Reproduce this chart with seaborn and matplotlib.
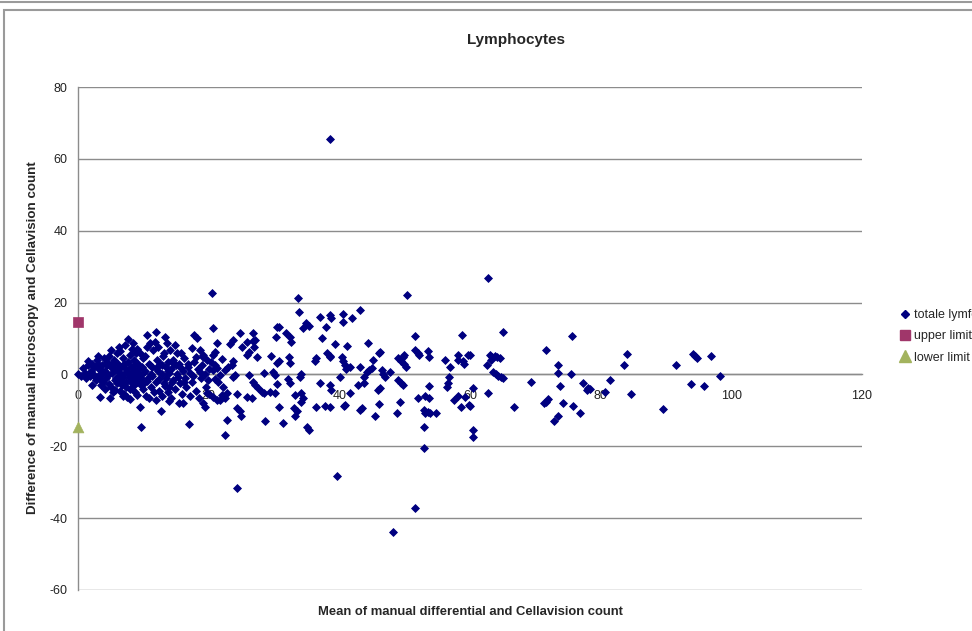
import matplotlib
matplotlib.use("Agg")
import matplotlib.pyplot as plt
import seaborn as sns
import pandas as pd
from matplotlib.patches import Rectangle
from matplotlib.lines import Line2D

# ---------------- data ----------------
title = "Lymphocytes"
x_label = "Mean of manual differential and Cellavision count"
y_label = "Difference of manual microscopy and Cellavision count"
series_names = ["totale lymfocyten", "upper limit", "lower limit"]

x_ticks = [0, 20, 40, 60, 80, 100, 120]
y_ticks = [-60, -40, -20, 0, 20, 40, 60, 80]

# mean (x) and difference (y) of the main series
mean_count = [
    # dense cluster 0-20
    0.0, 0.5, 0.8, 1.0, 1.2, 1.5, 1.6, 1.8, 2.0, 2.1, 2.3, 2.5, 2.7, 2.9, 3.0, 3.1, 3.2, 3.4, 3.5, 3.6,
    3.8, 3.9, 4.0, 4.1, 4.2, 4.3, 4.5, 4.6, 4.8, 4.9, 5.0, 5.1, 5.2, 5.4, 5.5, 5.6, 5.7, 5.9, 6.0, 6.1,
    6.2, 6.3, 6.4, 6.5, 6.6, 6.7, 6.8, 6.9, 7.0, 7.1, 7.2, 7.3, 7.4, 7.5, 7.6, 7.7, 7.8, 7.9, 8.0, 8.1,
    8.2, 8.3, 8.4, 8.5, 8.6, 8.7, 8.8, 8.9, 9.0, 9.1, 9.2, 9.3, 9.5, 9.5, 9.6, 9.7, 9.8, 9.9, 10.0, 10.1,
    10.2, 10.3, 10.4, 10.5, 10.6, 10.7, 10.8, 10.9, 11.0, 11.1, 11.2, 11.3, 11.5, 11.6, 11.8, 11.9, 12.0, 12.1, 12.2, 12.3,
    12.4, 12.5, 12.7, 12.8, 12.9, 13.0, 13.1, 13.2, 13.3, 13.4, 13.5, 13.6, 13.7, 13.8, 13.9, 14.0, 14.1, 14.2, 14.3, 14.5,
    14.6, 14.8, 14.9, 15.0, 15.1, 15.2, 15.4, 15.5, 15.6, 15.8, 15.9, 16.0, 16.1, 16.3, 16.4, 16.6, 16.8, 17.0, 17.1, 17.2,
    17.4, 17.5, 17.7, 17.8, 18.0, 18.2, 18.3, 18.5, 18.7, 18.8, 19.0, 19.2, 19.2, 19.4, 19.5, 19.6, 19.7, 19.7, 19.9, 20.0,
    20.0, 2.2, 2.6, 3.3, 3.7, 4.4, 4.7, 5.3, 5.8, 6.0, 6.6, 7.0, 7.3, 7.8, 8.2, 8.5, 8.9, 9.2, 9.6, 10.0,
    10.5, 11.0, 11.4, 11.9, 12.4, 12.9, 13.3, 13.8, 14.4, 14.7, 15.3, 15.8, 16.2, 16.9, 17.6, 18.1, 18.6, 3.0, 5.0, 6.2,
    8.4, 9.0, 5.6, 6.9, 8.0, 12.0, 14.0, 19.1, 20.4, 21.0, 21.2, 20.7,
    # 20-40
    20.5, 20.6, 33.6, 33.8, 30.8, 24.8, 26.8, 23.8, 23.3, 25.8, 26.8, 25.1, 27.0, 30.3, 31.8, 32.5, 32.6, 34.9, 35.3, 37.0,
    38.5, 38.7, 38.0, 37.3, 39.3, 21.0, 20.7, 26.1, 25.8, 27.4, 29.5, 30.8, 30.5, 32.3, 32.4, 36.5, 36.2, 38.1, 38.5, 23.8,
    23.5, 23.0, 22.5, 24.0, 23.8, 21.8, 26.1, 28.4, 30.2, 29.8, 34.2, 34.0, 26.8, 27.1, 27.6, 28.1, 28.4, 29.4, 30.2, 30.5,
    32.2, 32.5, 33.2, 34.2, 34.5, 37.0, 38.6, 38.8, 24.3, 25.8, 26.6, 30.7, 33.0, 33.5, 33.2, 36.4, 37.8, 38.6, 35.0, 35.3,
    31.4, 28.6, 24.3, 24.8, 25.0, 22.8, 22.5, 21.7, 22.5, 20.7, 21.2, 22.8, 22.0, 24.3, 39.6, 30.4, 34.5, 27.1, 34.2, 21.5,
    22.2, 20.9, 21.3, 22.0,
    # 40-60
    38.6, 50.3, 40.5, 40.5, 41.9, 43.1, 41.2, 38.6, 40.4, 40.6, 40.9, 41.0, 44.4, 43.2, 45.1, 46.3, 46.1, 45.0, 44.6, 44.3,
    43.8, 43.7, 46.5, 46.7, 47.0, 47.7, 42.8, 41.6, 40.7, 46.2, 45.9, 43.4, 43.2, 45.5, 46.1, 49.0, 49.4, 49.7, 49.9, 50.2,
    49.9, 51.6, 51.6, 52.0, 52.2, 53.5, 53.7, 49.0, 49.4, 49.7, 49.3, 52.0, 53.7, 53.1, 53.8, 48.8, 52.9, 53.1, 53.5, 53.9,
    54.8, 52.9, 52.9, 51.6, 48.2, 56.2, 57.0, 56.8, 56.6, 56.5, 58.1, 58.2, 58.9, 59.1, 58.7, 57.6, 58.2, 58.6, 59.7, 59.9,
    40.1, 41.6, 40.9,
    # 60-100
    60.0, 60.4, 60.4, 62.7, 65.1, 63.0, 63.3, 63.2, 63.8, 64.2, 64.6, 62.6, 63.5, 64.0, 64.3, 64.7, 65.0, 60.4, 59.2, 60.0,
    62.7, 66.7, 69.3, 71.7, 73.5, 73.5, 73.7, 75.6, 75.5, 71.6, 71.9, 71.3, 74.2, 75.8, 76.9, 72.8, 73.4, 77.3, 78.1, 78.4,
    77.9, 80.7, 81.4, 84.1, 83.6, 84.6, 89.5, 91.6, 94.1, 94.4, 94.7, 93.8, 95.8, 96.9, 98.2,
]
difference = [
    # dense cluster 0-20
    0.0, -0.5, 1.7, 0.5, -1.0, 2.5, 3.6, -0.3, 1.0, -2.9, 0.0, 2.0, -1.5, 4.0, 3.0, -0.5, 1.5, -6.2, -3.0, 2.5,
    0.8, -2.0, 4.5, -4.0, 1.0, -1.0, 3.5, -0.2, 5.0, -6.6, 2.0, -3.5, 0.5, -5.0, 4.0, -1.5, 1.5, 5.9, -2.5, 3.0,
    -0.5, 0.8, -4.5, 6.5, 2.2, -1.0, -3.0, 4.5, 0.0, -5.5, 8.2, 1.5, -2.0, -6.2, 3.5, 9.9, -0.8, 5.5, -4.0, 2.0,
    7.0, -1.5, 0.5, -3.0, 4.0, -5.0, 1.0, 6.0, -5.7, -2.0, 3.0, 0.0, 5.9, -9.0, -1.0, -14.5, 2.0, -4.0, 4.5, -2.5,
    1.0, 5.0, -6.0, 7.7, 11.0, -1.0, -6.6, 3.0, 8.7, 0.0, -3.5, 2.0, 6.8, -5.0, 9.1, 11.9, -2.0, 4.0, 1.0, 7.7,
    -4.5, 3.0, -10.3, 0.0, -6.0, 5.0, 5.9, -2.5, 10.5, 2.0, -1.0, 8.7, -5.0, 3.5, 0.5, -3.5, 6.8, 1.5, -6.5, 4.0,
    -1.5, 8.2, -4.0, 2.5, 5.9, 0.0, -8.0, 3.0, -2.5, 6.0, -5.5, 1.0, -8.0, 4.5, -1.0, -3.5, 2.0, -13.9, -6.0, 0.5,
    7.3, -2.0, 11.0, 3.5, -4.5, 10.1, 1.5, -6.5, 6.8, -1.0, 2.5, 5.4, -8.0, -9.0, 0.0, -3.4, 4.0, -5.2, -1.5, -5.5,
    1.5, 2.8, -0.8, -1.2, 0.2, 2.6, -2.6, 3.2, -0.9, 1.2, -1.8, 2.8, -3.6, 0.3, -2.4, 2.5, -0.6, 1.4, -3.0, 0.5,
    -1.8, 2.6, -0.4, 1.8, -1.2, 2.6, -3.2, 1.0, -2.2, 2.8, -0.8, 1.8, -2.2, 3.0, -0.5, 4.8, 0.8, 5.0, 6.8, 7.5,
    8.8, 7.2, -4.2, -6.0, -6.8, -7.0, -7.3, 4.9, 3.4, 2.6, 1.8, 1.3,
    # 20-40
    22.8, 13.0, 21.4, 17.5, 13.3, 11.6, 11.6, 9.6, 8.5, 9.1, 9.4, 7.7, 7.7, 10.4, 11.5, 10.5, 8.9, 14.2, 13.5, 16.1,
    16.6, 15.6, 13.3, 10.1, 8.5, 6.3, 5.4, 6.3, 5.4, 4.8, 5.0, 3.6, 3.1, 4.8, 3.1, 4.5, 3.6, 5.9, 5.0, 3.6,
    2.6, 2.0, 1.1, -0.1, -0.8, -0.1, -0.1, 0.5, -0.1, 0.6, 0.1, -0.6, -2.0, -2.9, -3.8, -4.8, -5.2, -4.8, -5.2, -2.6,
    -1.3, -2.5, -5.7, -5.2, -6.6, -2.3, -2.9, -4.3, -5.4, -6.2, -6.6, -9.0, -9.4, -10.1, -11.7, -9.2, -8.8, -9.0, -14.5, -15.4,
    -13.4, -13.1, -9.4, -10.1, -11.7, -12.7, -16.8, -7.1, -6.6, -6.2, -7.1, -5.2, -5.7, -31.5, -28.4, 13.1, 12.9, 9.6, -7.6, -2.0,
    -3.5, -1.2, 8.8, 4.2,
    # 40-60
    65.5, 22.1, 16.8, 14.5, 15.6, 17.8, 8.0, 4.8, 4.8, 3.6, 2.6, 1.5, 8.7, 2.2, 4.0, 6.3, 5.9, 1.7, 1.3, 0.8,
    -0.6, -2.5, 1.1, 0.1, -0.6, 0.8, -2.9, -5.2, -8.8, -3.8, -4.3, -9.4, -9.9, -11.6, -8.3, 4.5, 3.8, 4.8, 2.9, 2.0,
    5.4, 10.7, 6.8, 6.1, 5.4, 6.6, 4.8, -1.5, -2.3, -2.9, -7.6, -6.5, -3.1, -6.0, -6.6, -10.8, -9.9, -10.6, -10.4, -10.8,
    -10.8, -14.5, -20.6, -37.1, -43.9, 4.0, 2.0, -0.6, -2.5, -3.4, 5.4, 4.0, 3.6, 2.9, 11.0, -7.1, -6.0, -9.1, 5.4, -8.5,
    -0.6, 2.0, -8.5,
    # 60-100
    5.4, -15.4, -17.5, 26.9, 11.9, 5.4, 4.8, 4.0, 5.1, 4.8, 4.5, 2.5, 0.8, 0.1, -0.3, -0.6, -0.9, -3.8, -6.2, -8.7,
    -5.1, -9.0, -2.0, 6.8, 2.5, 0.5, -3.1, 10.7, 0.1, -7.6, -6.9, -8.0, -8.0, -8.7, -10.8, -13.1, -11.7, -2.3, -3.8, -4.1,
    -4.3, -4.8, -1.5, 5.6, 2.5, -5.4, -9.5, 2.6, 5.6, 5.0, 4.5, -2.7, -3.1, 5.1, -0.4,
]

upper_x = [0]
upper_limit = [14.5]
lower_x = [0]
lower_limit = [-14.5]

# ---------------- styling ----------------
sns.set_style("white")
plt.rcParams["font.family"] = ["Liberation Sans", "DejaVu Sans"]
plt.rcParams["axes.unicode_minus"] = False

navy = "#000080"
plum = "#A0366A"
olive = "#A3B35E"
grid_gray = "#8C8C8C"

W, H = 972, 631
fig = plt.figure(figsize=(W / 100, H / 100), dpi=100)
fig.patch.set_facecolor("white")

left, right, top, bottom = 78, 862, 87, 590
ax = fig.add_axes([left / W, 1 - bottom / H, (right - left) / W, (bottom - top) / H])
ax.set_facecolor("white")

main_df = pd.DataFrame({"mean": mean_count, "diff": difference})
sns.scatterplot(data=main_df, x="mean", y="diff", marker="D", s=16, color=navy,
                edgecolor=navy, linewidth=0.6, ax=ax, clip_on=False, zorder=3, legend=False)
sns.scatterplot(x=upper_x, y=upper_limit, marker="s", s=48, color=plum, edgecolor=plum,
                linewidth=0.5, ax=ax, clip_on=False, zorder=4, legend=False)
sns.scatterplot(x=lower_x, y=lower_limit, marker="^", s=60, color=olive, edgecolor=olive,
                linewidth=0.5, ax=ax, clip_on=False, zorder=4, legend=False)

ax.set_xlim(0, 120)
ax.set_ylim(-60, 80)
ax.set_xticks(x_ticks)
ax.set_yticks(y_ticks)
ax.set_xticklabels([str(t) for t in x_ticks])
ax.set_yticklabels([str(t) for t in y_ticks])
ax.set_xlabel("")
ax.set_ylabel("")

ax.yaxis.grid(True, color=grid_gray, linewidth=1.0)
ax.xaxis.grid(False)
ax.set_axisbelow(True)

for s in ["top", "right"]:
    ax.spines[s].set_visible(False)
ax.spines["bottom"].set_position(("data", 0))
ax.spines["bottom"].set_color(grid_gray)
ax.spines["left"].set_color(grid_gray)
ax.spines["bottom"].set_linewidth(1.0)
ax.spines["left"].set_linewidth(1.0)
ax.spines["bottom"].set_zorder(2)

ax.tick_params(axis="x", direction="out", length=3.5, width=1, color=grid_gray,
               labelsize=9, pad=8, labelcolor="#222222")
ax.tick_params(axis="y", direction="out", length=3.5, width=1, color=grid_gray,
               labelsize=9, pad=4, labelcolor="#222222")
for lab in ax.get_xticklabels():
    lab.set_zorder(1)

# titles / axis labels
fig.text(516 / W, 1 - 40 / H, title, ha="center", va="center", fontsize=11, fontweight="bold")
fig.text(470 / W, 1 - 612 / H, x_label, ha="center", va="center", fontsize=9.4, fontweight="bold")
fig.text(33 / W, 1 - 338 / H, y_label, ha="center", va="center", rotation=90,
         fontsize=9.6, fontweight="bold")

# legend (extends past the right edge, as in the reference)
handles = [
    Line2D([], [], marker="D", ls="none", color=navy, ms=4),
    Line2D([], [], marker="s", ls="none", color=plum, ms=7),
    Line2D([], [], marker="^", ls="none", color=olive, ms=8),
]
fig.legend(handles, series_names, loc="upper left", bbox_to_anchor=(900 / W, 1 - 309 / H),
           frameon=False, fontsize=9, handlelength=0.8, handletextpad=0.3,
           labelspacing=0.75, borderaxespad=0, borderpad=0)

# chart frame lines
fig.add_artist(Line2D([0, 1], [1 - 2 / H, 1 - 2 / H], transform=fig.transFigure,
                      color="#9a9a9a", lw=1.5))
fig.add_artist(Rectangle((4 / W, -0.1), 1.2, (1 - 10 / H) + 0.1, transform=fig.transFigure,
                         fill=False, edgecolor="#9a9a9a", lw=1.5))

fig.savefig("out.png", dpi=100)
